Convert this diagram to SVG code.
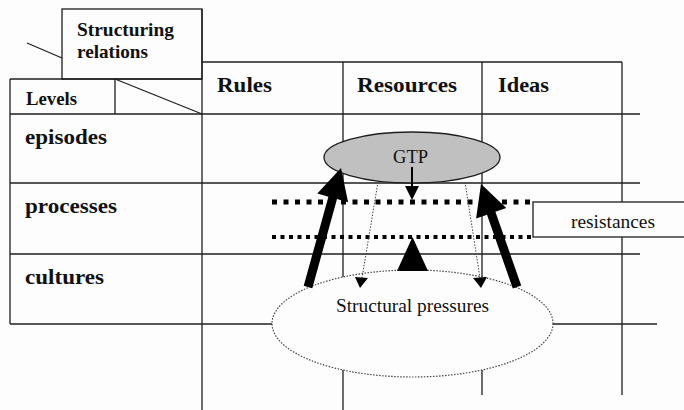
<svg xmlns="http://www.w3.org/2000/svg" width="684" height="410" viewBox="0 0 684 410">
  <style>
    .grid { stroke: #1e1e1e; stroke-width: 1.3; fill: none; }
    .hd { font-family: "Liberation Serif", "Times New Roman", serif; font-weight: bold; fill: #111; }
    .lbl { font-family: "Liberation Serif", "Times New Roman", serif; fill: #111; }
    .thin { stroke: #444; stroke-width: 1; stroke-dasharray: 1.5 1.5; fill: none; }
    .solid { fill: #000; }
  </style>
  <rect width="684" height="410" fill="#fdfdfd"/>

  <!-- table grid -->
  <g id="grid" class="grid">
    <rect x="62" y="9" width="140" height="70"/>
    <line x1="27" y1="43" x2="62" y2="58"/>
    <line x1="10" y1="79" x2="202" y2="79"/>
    <line x1="10" y1="79" x2="10" y2="324"/>
    <line x1="115" y1="79" x2="115" y2="114"/>
    <line x1="115" y1="79" x2="202" y2="114"/>
    <line x1="202" y1="62" x2="622" y2="62"/>
    <line x1="202" y1="9" x2="202" y2="410"/>
    <line x1="343" y1="62" x2="343" y2="410"/>
    <line x1="482" y1="62" x2="482" y2="395"/>
    <line x1="622" y1="62" x2="622" y2="395"/>
    <line x1="10" y1="114" x2="640" y2="114"/>
    <line x1="10" y1="183" x2="640" y2="183"/>
    <line x1="10" y1="254" x2="640" y2="254"/>
    <line x1="10" y1="324" x2="657" y2="324"/>
  </g>

  <!-- headings -->
  <g id="header-corner">
    <text class="hd" x="77" y="36" font-size="19" textLength="97" lengthAdjust="spacingAndGlyphs">Structuring</text>
    <text class="hd" x="77" y="58" font-size="19" textLength="71" lengthAdjust="spacingAndGlyphs">relations</text>
    <text class="hd" x="26" y="105" font-size="18.5" textLength="51" lengthAdjust="spacingAndGlyphs">Levels</text>
  </g>
  <g id="col-rules"><text class="hd" x="217" y="92" font-size="22" textLength="55" lengthAdjust="spacingAndGlyphs">Rules</text></g>
  <g id="col-resources"><text class="hd" x="357" y="92" font-size="22" textLength="100" lengthAdjust="spacingAndGlyphs">Resources</text></g>
  <g id="col-ideas"><text class="hd" x="498" y="92" font-size="22" textLength="51" lengthAdjust="spacingAndGlyphs">Ideas</text></g>
  <g id="row-episodes"><text class="hd" x="25" y="144" font-size="22" textLength="82" lengthAdjust="spacingAndGlyphs">episodes</text></g>
  <g id="row-processes"><text class="hd" x="25" y="213" font-size="22" textLength="92" lengthAdjust="spacingAndGlyphs">processes</text></g>
  <g id="row-cultures"><text class="hd" x="25" y="284" font-size="22" textLength="79" lengthAdjust="spacingAndGlyphs">cultures</text></g>

  <!-- structural pressures -->
  <g id="structural-pressures">
    <ellipse cx="412.5" cy="323.5" rx="140.5" ry="53.5" fill="#fdfdfd" stroke="#444" stroke-width="1.2" stroke-dasharray="1.5 1.5"/>
    <text class="lbl" x="336" y="312" font-size="19" textLength="153" lengthAdjust="spacingAndGlyphs">Structural pressures</text>
  </g>

  <!-- GTP -->
  <g id="gtp">
    <ellipse cx="412" cy="157.5" rx="88" ry="25.5" fill="#c0c0c0" stroke="#1e1e1e" stroke-width="1.3"/>
    <text class="lbl" x="393" y="163" font-size="18" textLength="35" lengthAdjust="spacingAndGlyphs">GTP</text>
  </g>

  <!-- resistances -->
  <g id="resistances">
    <rect x="533" y="202" width="160" height="35" fill="#fdfdfd" stroke="#1e1e1e" stroke-width="1.3"/>
    <text class="lbl" x="571" y="228" font-size="19" textLength="84" lengthAdjust="spacingAndGlyphs">resistances</text>
  </g>

  <!-- connectors -->
  <g id="connectors">
    <!-- resistance barriers -->
    <line x1="272" y1="202" x2="533" y2="202" stroke="#000" stroke-width="5" stroke-dasharray="5 6.5"/>
    <line x1="272" y1="237" x2="533" y2="237" stroke="#000" stroke-width="4" stroke-dasharray="4 4.5"/>

    <!-- GTP down to processes -->
    <line x1="412" y1="167" x2="412" y2="189" stroke="#000" stroke-width="2"/>
    <polygon class="solid" points="405,186 419,186 412,200"/>

    <!-- upward pressure -->
    <polygon class="solid" points="397,271 428,271 412.5,237"/>

    <!-- thin dotted arrows from GTP down to structural pressures -->
    <line class="thin" x1="378" y1="182" x2="362" y2="278"/>
    <polygon class="solid" points="355,277 368,278 360,288"/>
    <line class="thin" x1="465" y1="182" x2="480" y2="278"/>
    <polygon class="solid" points="473,278 487,277 481,288"/>

    <!-- thick arrows up to GTP -->
    <polygon class="solid" points="303.7,285.8 312.3,288.2 337.0,199.1 348.1,202.2 341,168 317.3,193.6 328.4,196.7"/>
    <polygon class="solid" points="512.8,288.5 521.2,285.5 495.4,211.8 506.3,208.0 481,184 476.1,218.6 487.0,214.8"/>
  </g>
</svg>
